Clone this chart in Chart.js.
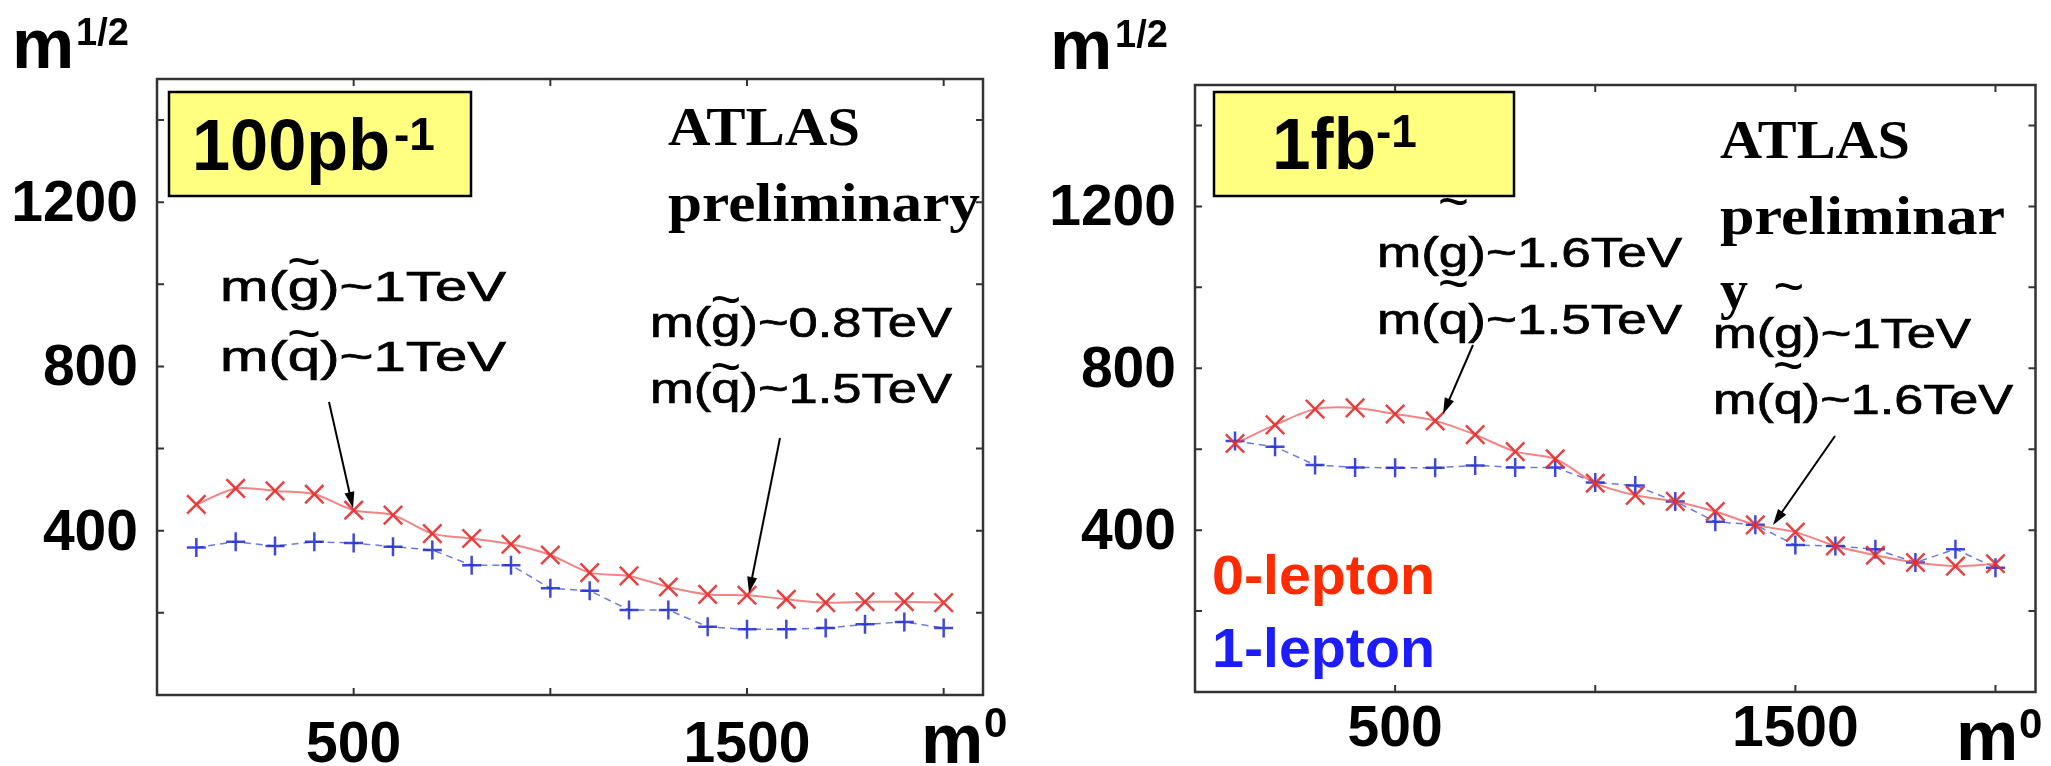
<!DOCTYPE html>
<html>
<head>
<meta charset="utf-8">
<script src="https://cdn.jsdelivr.net/npm/chart.js@4.4.1/dist/chart.umd.min.js"></script>
<style>
  body { margin: 0; background: #fff; }
  canvas { position: absolute; top: 0; }
  #left { left: 0; }
  #right { left: 1030px; }
</style>
</head>
<body>
<canvas id="left" width="1030" height="766"></canvas>
<canvas id="right" width="1021" height="766"></canvas>
<script>
'use strict'

//data
const m0 = [100, 200, 300, 400, 500, 600, 700, 800, 900, 1000, 1100, 1200, 1300, 1400, 1500, 1600, 1700, 1800, 1900, 2000];

const zeroLep100pb = [464, 503, 497, 489, 450, 438, 393, 381, 367, 341, 298, 290, 263, 245, 243, 233, 225, 227, 227, 225];
const oneLep100pb = [359, 373, 363, 373, 370, 361, 353, 316, 316, 260, 254, 207, 207, 166, 160, 160, 163, 172, 178, 163];

const zeroLep1fb = [614, 660, 699, 702, 687, 670, 636, 594, 576, 516, 486, 471, 446, 413, 395, 361, 338, 320, 311, 317];
const oneLep1fb = [620, 606, 561, 555, 554, 554, 560, 555, 555, 518, 510, 471, 421, 413, 363, 361, 353, 320, 353, 307];

const yGridTicks = [200, 400, 600, 800, 1000, 1200, 1400];
const xGridTicks = [500, 1000, 1500, 2000];
const yTickLabels = [400, 800, 1200];
const xTickLabels = [500, 1500];

//helpers
function toPoints(ys) {
  return m0.map((x, i) => ({ x: x, y: ys[i] }));
}

function stretchText(ctx, text, x, y, width, stroke) {
  const w = ctx.measureText(text).width;
  const s = width / w;
  ctx.save();
  ctx.translate(x, y);
  ctx.scale(s, 1);
  ctx.fillText(text, 0, 0);
  if (stroke) {
    ctx.lineWidth = stroke;
    ctx.strokeStyle = ctx.fillStyle;
    ctx.strokeText(text, 0, 0);
  }
  ctx.restore();
  return s;
}

function drawMass(ctx, a, ox) {
  ctx.font = '42px "Liberation Sans", Arial, sans-serif';
  ctx.fillStyle = '#000';
  const s = stretchText(ctx, a.text, a.x - ox, a.y, a.w, 0.7);
  const pre = ctx.measureText('m(').width * s;
  const gw = ctx.measureText('g').width * s;
  const tw = ctx.measureText('~').width;
  ctx.save();
  ctx.translate(a.x - ox + pre + gw / 2, a.y - a.tilde + 13);
  ctx.scale(s, 1.3);
  ctx.fillText('~', -tw / 2, 0);
  ctx.restore();
}

function drawArrow(ctx, a, ox) {
  const x1 = a[0] - ox, y1 = a[1], x2 = a[2] - ox, y2 = a[3];
  const ang = Math.atan2(y2 - y1, x2 - x1);
  ctx.strokeStyle = '#000';
  ctx.fillStyle = '#000';
  ctx.lineWidth = 2;
  ctx.beginPath();
  ctx.moveTo(x1, y1);
  ctx.lineTo(x2 - 10 * Math.cos(ang), y2 - 10 * Math.sin(ang));
  ctx.stroke();
  ctx.beginPath();
  ctx.moveTo(x2, y2);
  ctx.lineTo(x2 - 16 * Math.cos(ang) + 5 * Math.sin(ang), y2 - 16 * Math.sin(ang) - 5 * Math.cos(ang));
  ctx.lineTo(x2 - 16 * Math.cos(ang) - 5 * Math.sin(ang), y2 - 16 * Math.sin(ang) + 5 * Math.cos(ang));
  ctx.closePath();
  ctx.fill();
}

//decorations drawn on top of each panel
function makeDecor(p) {
  return {
    id: 'decor',
    afterDraw(chart) {
      const ctx = chart.ctx;
      const ca = chart.chartArea;
      const xs = chart.scales.x;
      const ys = chart.scales.y;
      const ox = p.offset;
      ctx.save();

      // frame + inward ticks
      ctx.strokeStyle = '#333';
      ctx.lineWidth = 2.5;
      ctx.strokeRect(ca.left, ca.top, ca.right - ca.left, ca.bottom - ca.top);
      ctx.lineWidth = 2;
      ctx.beginPath();
      yGridTicks.forEach(v => {
        const y = ys.getPixelForValue(v);
        ctx.moveTo(ca.left, y); ctx.lineTo(ca.left + 7, y);
        ctx.moveTo(ca.right, y); ctx.lineTo(ca.right - 7, y);
      });
      xGridTicks.forEach(v => {
        const x = xs.getPixelForValue(v);
        ctx.moveTo(x, ca.bottom); ctx.lineTo(x, ca.bottom - 7);
        ctx.moveTo(x, ca.top); ctx.lineTo(x, ca.top + 7);
      });
      ctx.stroke();

      // tick labels
      ctx.fillStyle = '#000';
      ctx.font = 'bold 57px "Liberation Sans", Arial, sans-serif';
      ctx.textAlign = 'right';
      yTickLabels.forEach(v => {
        ctx.fillText(String(v), ca.left - 19, ys.getPixelForValue(v) + 19);
      });
      ctx.textAlign = 'center';
      xTickLabels.forEach(v => {
        ctx.fillText(String(v), xs.getPixelForValue(v), p.xLabelY);
      });
      ctx.textAlign = 'left';

      // axis titles
      ctx.font = 'bold 70px "Liberation Sans", Arial, sans-serif';
      ctx.fillText('m', p.yTitle[0] - ox, p.yTitle[1]);
      ctx.fillText('m', p.xTitle[0] - ox, p.xTitle[1]);
      ctx.font = 'bold 38px "Liberation Sans", Arial, sans-serif';
      ctx.fillText('1/2', p.yTitle[2] - ox, p.yTitle[3]);
      ctx.font = 'bold 42px "Liberation Sans", Arial, sans-serif';
      ctx.fillText('0', p.xTitle[2] - ox, p.xTitle[3]);

      // luminosity box
      const b = p.box;
      ctx.fillStyle = '#ffff80';
      ctx.fillRect(b[0] - ox, b[1], b[2] - b[0], b[3] - b[1]);
      ctx.strokeStyle = '#000';
      ctx.lineWidth = 2.5;
      ctx.strokeRect(b[0] - ox, b[1], b[2] - b[0], b[3] - b[1]);
      ctx.fillStyle = '#000';
      ctx.font = 'bold 72px "Liberation Sans", Arial, sans-serif';
      stretchText(ctx, p.lumi, p.lumiPos[0] - ox, p.lumiPos[1], p.lumiPos[2]);
      ctx.font = 'bold 46px "Liberation Sans", Arial, sans-serif';
      ctx.fillText('-1', p.lumiSup[0] - ox, p.lumiSup[1]);

      // ATLAS preliminary
      ctx.font = 'bold 54px "Liberation Serif", "DejaVu Serif", serif';
      p.atlas.forEach(t => stretchText(ctx, t[0], t[1] - ox, t[2], t[3]));

      // mass annotations and arrows
      p.masses.forEach(a => drawMass(ctx, a, ox));
      p.arrows.forEach(a => drawArrow(ctx, a, ox));

      // legend text
      ctx.font = 'bold 56px "Liberation Sans", Arial, sans-serif';
      p.legend.forEach(t => {
        ctx.fillStyle = t[4];
        stretchText(ctx, t[0], t[1] - ox, t[2], t[3]);
      });

      ctx.restore();
    }
  };
}

function makePanel(id, zeroLep, oneLep, p) {
  const canvas = document.getElementById(id);
  const data = {
    datasets: [{
      label: '0-lepton',
      data: toPoints(zeroLep),
      borderColor: 'rgba(238, 80, 80, 0.7)',
      borderWidth: 2,
      tension: 0.3,
      pointStyle: 'crossRot',
      pointRadius: 13,
      pointBorderWidth: 2.5,
      pointBorderColor: 'rgba(228, 45, 45, 0.9)'
    },
    {
      label: '1-lepton',
      data: toPoints(oneLep),
      borderColor: 'rgba(70, 90, 215, 0.8)',
      borderWidth: 1.5,
      borderDash: [7, 5],
      tension: 0,
      pointStyle: 'cross',
      pointRadius: 9.5,
      pointBorderWidth: 2.5,
      pointBorderColor: 'rgba(30, 40, 210, 0.85)'
    }]
  };
  const config = {
    type: 'line',
    data: data,
    options: {
      responsive: false,
      animation: false,
      devicePixelRatio: 1,
      layout: { padding: p.padding },
      scales: {
        x: { type: 'linear', min: 0, max: 2100, display: false },
        y: { type: 'linear', min: 0, max: 1500, display: false }
      },
      plugins: {
        legend: { display: false },
        tooltip: { enabled: false }
      }
    },
    plugins: [makeDecor(p)]
  };
  return new Chart(canvas, config);
}

//panels
makePanel('left', zeroLep100pb, oneLep100pb, {
  offset: 0,
  padding: { left: 157, top: 79, right: 47, bottom: 71 },
  xLabelY: 762,
  yTitle: [12, 68, 76, 45],
  xTitle: [921, 763, 984, 737],
  box: [169, 92, 471, 196],
  lumi: '100pb',
  lumiPos: [192, 170, 198],
  lumiSup: [394, 150],
  atlas: [['ATLAS', 668, 145, 192], ['preliminary', 668, 221, 312]],
  masses: [
    { text: 'm(g)~1TeV', x: 220, y: 301, w: 286, tilde: 34 },
    { text: 'm(q)~1TeV', x: 220, y: 371, w: 286, tilde: 32 },
    { text: 'm(g)~0.8TeV', x: 650, y: 337, w: 302, tilde: 32 },
    { text: 'm(q)~1.5TeV', x: 650, y: 403, w: 302, tilde: 31 }
  ],
  arrows: [[329, 402, 353, 508], [780, 438, 749, 593]],
  legend: []
});

makePanel('right', zeroLep1fb, oneLep1fb, {
  offset: 1030,
  padding: { left: 165, top: 85, right: 14, bottom: 74 },
  xLabelY: 746,
  yTitle: [1050, 69, 1115, 47],
  xTitle: [1956, 760, 2019, 738],
  box: [1214, 92, 1514, 196],
  lumi: '1fb',
  lumiPos: [1272, 169, 104],
  lumiSup: [1376, 147],
  atlas: [['ATLAS', 1720, 158, 190], ['preliminar', 1720, 234, 285], ['y', 1720, 308, 28]],
  masses: [
    { text: 'm(g)~1.6TeV', x: 1377, y: 267, w: 305, tilde: 60 },
    { text: 'm(q)~1.5TeV', x: 1377, y: 334, w: 305, tilde: 45 },
    { text: 'm(g)~1TeV', x: 1713, y: 348, w: 258, tilde: 56 },
    { text: 'm(q)~1.6TeV', x: 1713, y: 414, w: 300, tilde: 43 }
  ],
  arrows: [[1473, 345, 1443, 414], [1835, 436, 1773, 525]],
  legend: [['0-lepton', 1212, 594, 223, '#ff2a00'], ['1-lepton', 1212, 667, 223, '#1c1cff']]
});
</script>
</body>
</html>
